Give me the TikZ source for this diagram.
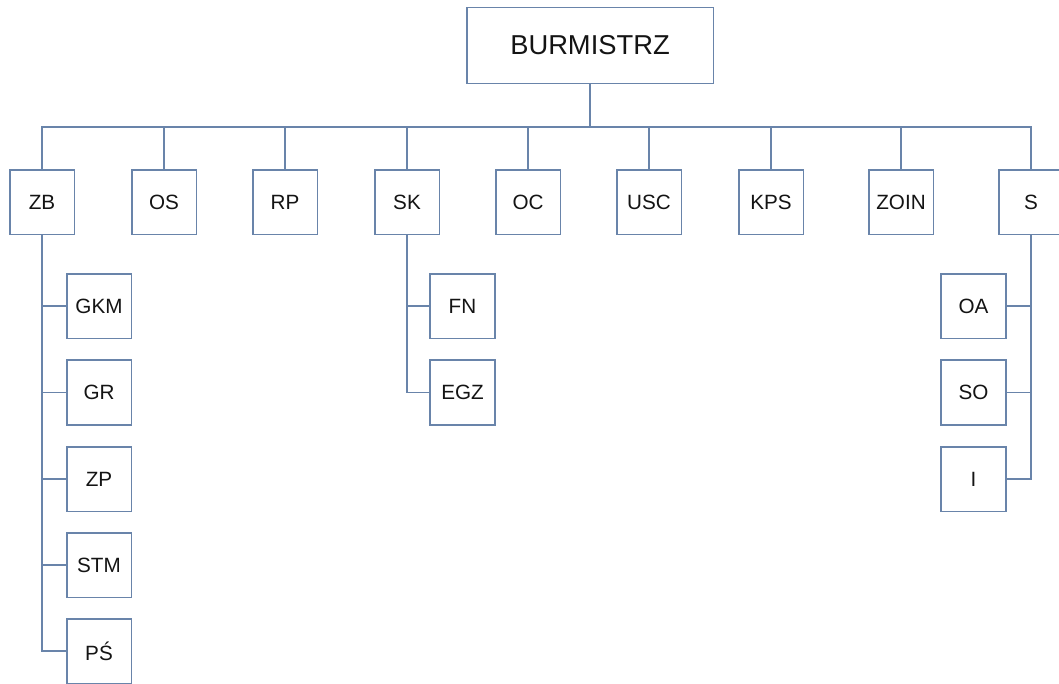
\documentclass[tikz,border=0pt]{standalone}
\usepackage{fontspec}
\setmainfont{Liberation Sans}
\definecolor{boxline}{RGB}{105,132,170}
\definecolor{txt}{RGB}{20,20,20}
\begin{document}
\begin{tikzpicture}[x=0.75pt,y=-0.75pt,
  unit/.style={draw=boxline, line width=1.25pt, fill=white, minimum width=48.5pt, minimum height=48.5pt, inner sep=0pt, text=txt, font=\fontsize{15.5}{17}\selectfont},
  top/.style={draw=boxline, line width=1.25pt, fill=white, minimum width=185pt, minimum height=57pt, inner sep=0pt, text=txt, font=\fontsize{20.5}{24}\selectfont},
  link/.style={draw=boxline, line width=1.25pt}]
\useasboundingbox (0,0) rectangle (1059,683);
\clip (0,0) rectangle (1059,683);
% top
\node[top] (burm) at (590,45.5) {BURMISTRZ};
% row
\node[unit] (zb) at (42,202) {ZB};
\node[unit] (os) at (164,202) {OS};
\node[unit] (rp) at (285,202) {RP};
\node[unit] (sk) at (407,202) {SK};
\node[unit] (oc) at (528,202) {OC};
\node[unit] (usc) at (649,202) {USC};
\node[unit] (kps) at (771,202) {KPS};
\node[unit] (zoin) at (901,202) {ZOIN};
\node[unit] (s) at (1031,202) {S};
% ZB children
\node[unit] (gkm) at (99,306) {GKM};
\node[unit] (gr) at (99,392.5) {GR};
\node[unit] (zp) at (99,479) {ZP};
\node[unit] (stm) at (99,565) {STM};
\node[unit] (ps) at (99,651) {PŚ};
% SK children
\node[unit] (fn) at (462.5,306) {FN};
\node[unit] (egz) at (462.5,392.5) {EGZ};
% S children
\node[unit] (oa) at (973.5,306) {OA};
\node[unit] (so) at (973.5,392.5) {SO};
\node[unit] (i) at (973.5,479) {I};
% bus
\coordinate (busL) at (42,127);
\coordinate (busR) at (1031,127);
\draw[link] (zb.north) -- (busL) -- (busR) -- (s.north);
\draw[link] (burm.south) -- (burm.south |- busL);
\foreach \n in {os,rp,sk,oc,usc,kps,zoin}
  \draw[link] (\n.north) -- (\n.north |- busL);
% ZB branch
\draw[link] (zb.south) |- (ps.west);
\foreach \n in {gkm,gr,zp,stm}
  \draw[link] (zb.south |- \n.west) -- (\n.west);
% SK branch
\draw[link] (sk.south) |- (egz.west);
\draw[link] (sk.south |- fn.west) -- (fn.west);
% S branch
\draw[link] (s.south) |- (i.east);
\foreach \n in {oa,so}
  \draw[link] (s.south |- \n.east) -- (\n.east);
\end{tikzpicture}
\end{document}
